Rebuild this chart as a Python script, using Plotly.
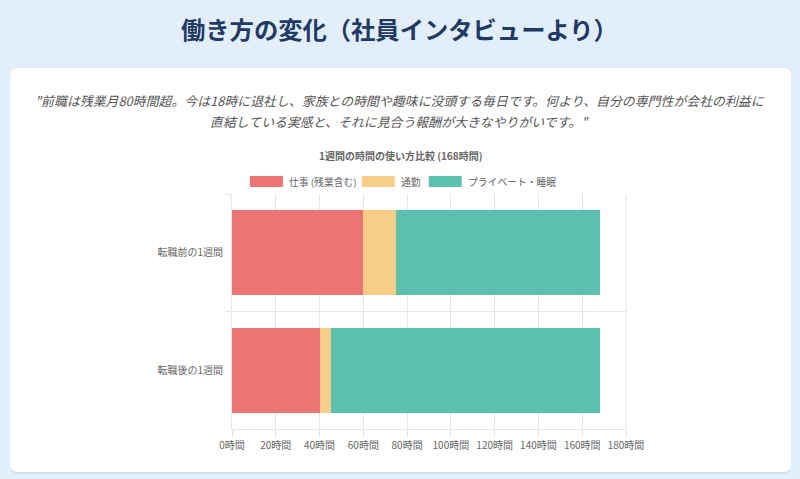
import plotly.graph_objects as go

# data
weeks = ["転職前の1週間", "転職後の1週間"]
work_hours = [60, 40]
commute_hours = [15, 5]
private_hours = [93, 123]
series_names = ["仕事 (残業含む)", "通勤", "プライベート・睡眠"]
series_colors = ["#ec7574", "#f7cd87", "#5cc0b1"]
x_ticks = [0, 20, 40, 60, 80, 100, 120, 140, 160, 180]
x_tick_labels = [f"{v}時間" for v in x_ticks]

W, H = 800, 479
# plot area in pixels
L, R, T, B = 232, 626.5, 194, 429


def px(x):
    return (x - L) / (R - L)


def py(y):
    return (B - y) / (B - T)


def rounded_rect(x0, y0, x1, y1, r):
    # rounded rectangle path in paper coords from pixel positions
    rx = r / (R - L)
    ry = r / (B - T)
    a0, a1 = px(x0), px(x1)
    b0, b1 = py(y1), py(y0)
    return (f"M{a0 + rx},{b0} L{a1 - rx},{b0} Q{a1},{b0} {a1},{b0 + ry} "
            f"L{a1},{b1 - ry} Q{a1},{b1} {a1 - rx},{b1} L{a0 + rx},{b1} "
            f"Q{a0},{b1} {a0},{b1 - ry} L{a0},{b0 + ry} Q{a0},{b0} {a0 + rx},{b0} Z")


font = "Noto Sans CJK JP, Noto Sans, sans-serif"

fig = go.Figure()
for name, vals, color in zip(series_names, [work_hours, commute_hours, private_hours], series_colors):
    fig.add_trace(go.Bar(
        y=weeks,
        x=vals,
        name=name,
        orientation="h",
        marker=dict(color=color, line=dict(width=0)),
        showlegend=False,
    ))

shapes = [
    # card shadow
    dict(type="path", xref="paper", yref="paper", layer="below",
         path=rounded_rect(10, 70, 792, 474, 8),
         fillcolor="#d3dfeb", line=dict(width=0)),
    # white card
    dict(type="path", xref="paper", yref="paper", layer="below",
         path=rounded_rect(10, 68, 792, 472, 8),
         fillcolor="#ffffff", line=dict(width=0)),
    # right border line of plot grid
    dict(type="line", xref="paper", yref="paper", layer="below",
         x0=1, x1=1, y0=0, y1=1, line=dict(color="#e6e6e6", width=1)),
]

annotations = [
    dict(text="<b>働き方の変化（社員インタビューより）</b>", xref="paper", yref="paper",
         x=px(400), y=py(28), xanchor="center", yanchor="middle", showarrow=False,
         font=dict(size=24.3, color="#1f3a64", family=font)),
    dict(text="<i>\"前職は残業月80時間超。今は18時に退社し、家族との時間や趣味に没頭する毎日です。何より、自分の専門性が会社の利益に</i>",
         xref="paper", yref="paper",
         x=px(400), y=py(100), xanchor="center", yanchor="middle", showarrow=False,
         font=dict(size=12.9, color="#555555", family=font)),
    dict(text="<i>直結している実感と、それに見合う報酬が大きなやりがいです。\"</i>",
         xref="paper", yref="paper",
         x=px(400), y=py(121), xanchor="center", yanchor="middle", showarrow=False,
         font=dict(size=12.9, color="#555555", family=font)),
    dict(text="<b>1週間の時間の使い方比較 (168時間)</b>", xref="paper", yref="paper",
         x=px(401), y=py(155), xanchor="center", yanchor="middle", showarrow=False,
         font=dict(size=10, color="#666666", family=font)),
]

# legend drawn as boxes + labels (Chart.js style wide boxes)
legend_x = [250, 362, 429]
for lx, name, color in zip(legend_x, series_names, series_colors):
    shapes.append(dict(type="rect", xref="paper", yref="paper",
                       x0=px(lx), x1=px(lx + 33), y0=py(187), y1=py(176),
                       fillcolor=color, line=dict(width=0)))
    annotations.append(dict(text=name, xref="paper", yref="paper",
                            x=px(lx + 37), y=py(181.5), xanchor="left", yanchor="middle",
                            showarrow=False, font=dict(size=9.8, color="#666666", family=font)))

fig.update_layout(
    width=W,
    height=H,
    barmode="stack",
    bargap=0.28,
    margin=dict(l=L, r=W - R, t=T, b=H - B, pad=0, autoexpand=False),
    paper_bgcolor="#e2eefa",
    plot_bgcolor="rgba(0,0,0,0)",
    font=dict(family=font, color="#666666", size=10),
    showlegend=False,
    xaxis=dict(
        range=[0, 180],
        tickmode="array",
        tickvals=x_ticks,
        ticktext=x_tick_labels,
        showgrid=True,
        gridcolor="#e6e6e6",
        gridwidth=1,
        zeroline=False,
        showline=True,
        linecolor="#e6e6e6",
        ticks="outside",
        ticklen=7,
        tickcolor="#e6e6e6",
        tickfont=dict(size=10, color="#666666"),
        fixedrange=True,
    ),
    yaxis=dict(
        categoryorder="array",
        categoryarray=weeks,
        autorange="reversed",
        tickson="boundaries",
        showgrid=True,
        gridcolor="#e6e6e6",
        showline=True,
        linecolor="#e6e6e6",
        ticks="outside",
        ticklen=6,
        tickcolor="#e6e6e6",
        tickfont=dict(size=10, color="#666666"),
        ticklabelstandoff=6,
        mirror=False,
    ),
    shapes=shapes,
    annotations=annotations,
)

# page body margin removed so the figure fills the window exactly
fig.write_html("out.html", config={"displayModeBar": False},
               post_script="document.body.style.margin='0';")
